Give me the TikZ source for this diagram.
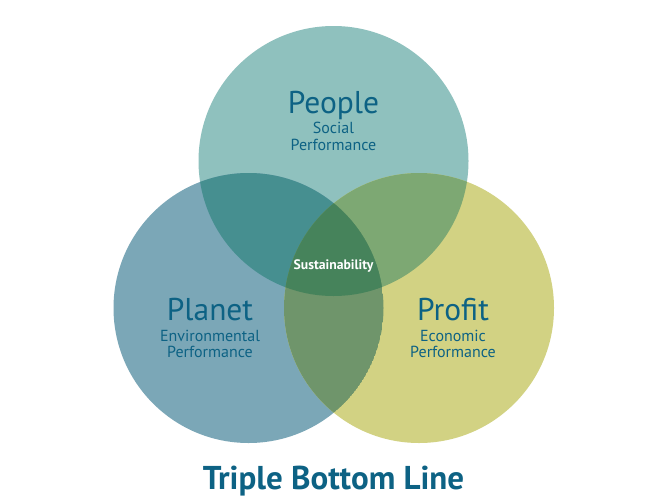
\documentclass[tikz,border=0pt]{standalone}
\usepackage{fontspec}
\setmainfont{PT Sans}
\definecolor{cT}{HTML}{8FC1BE}
\definecolor{cL}{HTML}{7BA7B7}
\definecolor{cR}{HTML}{D2D283}
\definecolor{cTL}{HTML}{468F90}
\definecolor{cTR}{HTML}{7DA873}
\definecolor{cLR}{HTML}{6F956B}
\definecolor{cAll}{HTML}{46835B}
\definecolor{txt}{HTML}{0D6284}
\tikzset{
  ring/.style={circle, minimum size=270pt, inner sep=0pt},
  title/.style={anchor=base, text=txt, font=\fontsize{31.5}{31.5}\selectfont, inner sep=0pt},
  sub/.style={anchor=base, text=txt, font=\fontsize{16}{16}\selectfont, inner sep=0pt},
}
\begin{document}
\begin{tikzpicture}[x=1pt,y=-1pt]
\useasboundingbox[fill=white] (0,0) rectangle (669,501);
\node[ring, fill=cT] (top) at (333.5,161) {};
\node[ring, fill=cL] (left) at (248.5,308) {};
\node[ring, fill=cR] (right) at (419,308) {};
\begin{scope}
  \clip (333.5,161) circle (135);
  \fill[cTL] (248.5,308) circle (135);
  \fill[cTR] (419,308) circle (135);
  \clip (248.5,308) circle (135);
  \fill[cAll] (419,308) circle (135);
\end{scope}
\begin{scope}
  \clip (248.5,308) circle (135);
  \clip (419,308) circle (135);
  \fill[cLR] (248.5,308) circle (135);
  \clip (333.5,161) circle (135);
  \fill[cAll] (333.5,161) circle (135);
\end{scope}
\node[title] (people) at (333.5,113) {People};
\node[sub] (social) at (333.5,133) {Social};
\node[sub] (perf1) at (333.5,150) {Performance};
\node[title] (planet) at (210,320) {Planet};
\node[sub] (env) at (210,341) {Environmental};
\node[sub] (perf2) at (210,357) {Performance};
\node[title] (profit) at (453,320) {Profit};
\node[sub] (eco) at (453,341) {Economic};
\node[sub] (perf3) at (453,357) {Performance};
\node[anchor=base, text=white, inner sep=0pt, font=\bfseries\fontsize{13.7}{13.7}\selectfont] (sust) at (333.5,269) {Sustainability};
\node[anchor=base, text=txt, inner sep=0pt, font=\bfseries\fontsize{33}{33}\selectfont] (tbl) at (333.5,489) {Triple Bottom Line};
\end{tikzpicture}
\end{document}
